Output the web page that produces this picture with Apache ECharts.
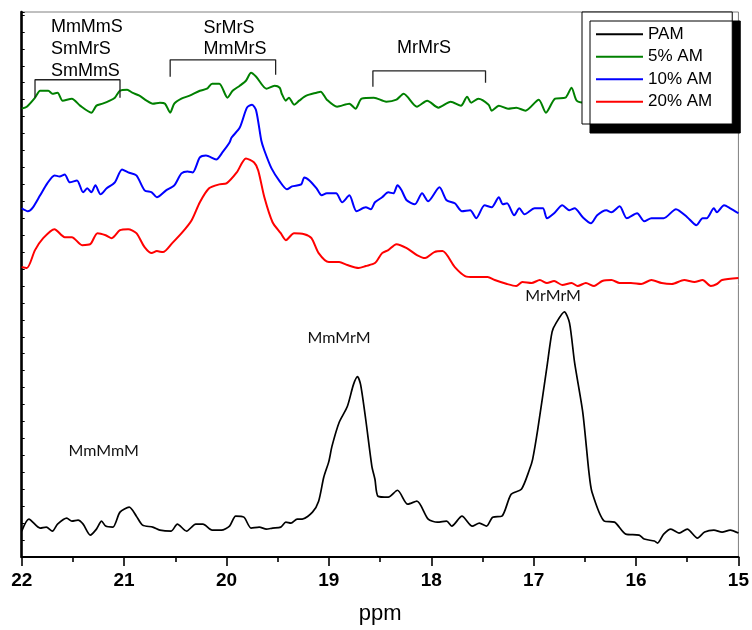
<!DOCTYPE html>
<html>
<head>
<meta charset="utf-8">
<script src="https://cdn.jsdelivr.net/npm/echarts@6/dist/echarts.min.js"></script>
<style>html,body{margin:0;padding:0;background:#fff}#c{width:752px;height:630px}</style>
</head>
<body>
<div id="c"></div>
<script>
// ---- data: [ppm, intensity (arbitrary units, stacked offsets)] ----
const seriesNames = ['PAM', '5% AM', '10% AM', '20% AM'];
const xTicks = [22, 21, 20, 19, 18, 17, 16, 15];

const pam = [[22.00,26],[21.93,38],[21.82,29],[21.76,30],[21.70,26],[21.65,33],[21.56,39],[21.51,36],[21.45,37],[21.40,33],[21.33,22],[21.27,28],[21.22,36],[21.18,31],[21.11,30],[21.04,45],[20.95,50],[20.88,41],[20.82,32],[20.72,30],[20.65,27],[20.54,26],[20.48,33],[20.39,26],[20.30,33],[20.23,33],[20.14,27],[20.05,27],[19.97,31],[19.91,41],[19.83,40],[19.76,29],[19.68,30],[19.61,28],[19.55,29],[19.47,30],[19.42,35],[19.37,34],[19.31,38],[19.26,38],[19.16,45],[19.10,56],[19.05,80],[19.00,96],[18.97,111],[18.90,135],[18.82,151],[18.76,173],[18.72,181],[18.69,173],[18.64,138],[18.58,91],[18.55,78],[18.52,61],[18.42,60],[18.33,67],[18.23,53],[18.14,56],[18.03,38],[17.94,35],[17.85,36],[17.80,31],[17.70,41],[17.60,31],[17.53,34],[17.46,31],[17.40,40],[17.31,41],[17.22,63],[17.12,68],[17.04,88],[17.01,98],[16.96,128],[16.87,191],[16.82,226],[16.78,235],[16.70,246],[16.65,235],[16.60,195],[16.52,145],[16.46,85],[16.43,65],[16.31,36],[16.21,35],[16.10,23],[15.97,22],[15.92,18],[15.82,16],[15.79,14],[15.73,23],[15.66,28],[15.58,24],[15.50,28],[15.40,19],[15.33,25],[15.24,27],[15.16,25],[15.08,27],[15.00,24]];

const am5 = [[22.00,450],[21.95,452],[21.87,461],[21.82,468],[21.74,468],[21.70,465],[21.65,466],[21.60,458],[21.51,460],[21.43,453],[21.32,446],[21.27,453],[21.21,455],[21.14,458],[21.09,461],[21.04,468],[20.97,469],[20.92,466],[20.85,463],[20.78,458],[20.72,455],[20.65,456],[20.60,455],[20.55,446],[20.51,455],[20.44,460],[20.36,463],[20.26,468],[20.19,470],[20.14,475],[20.07,475],[19.99,461],[19.94,468],[19.87,473],[19.81,478],[19.76,486],[19.71,482],[19.61,470],[19.53,473],[19.48,471],[19.46,465],[19.42,458],[19.39,461],[19.34,454],[19.29,458],[19.22,463],[19.12,466],[19.08,467],[19.02,459],[18.92,452],[18.80,455],[18.74,450],[18.68,460],[18.56,461],[18.44,457],[18.34,459],[18.27,465],[18.14,452],[18.04,458],[17.93,451],[17.81,457],[17.71,453],[17.65,462],[17.61,456],[17.54,460],[17.44,454],[17.41,448],[17.34,453],[17.25,450],[17.17,451],[17.08,448],[16.95,459],[16.88,446],[16.79,460],[16.69,461],[16.63,471],[16.58,458],[16.50,456],[16.40,460],[16.30,454],[16.20,458],[16.10,453],[16.00,459],[15.90,455],[15.80,458],[15.70,454],[15.60,460],[15.50,456],[15.40,458],[15.30,454],[15.20,459],[15.10,456],[15.00,455]];

const am10 = [[22.00,350],[21.94,347],[21.89,351],[21.82,363],[21.75,375],[21.68,383],[21.63,382],[21.58,384],[21.53,376],[21.46,378],[21.40,366],[21.36,370],[21.32,366],[21.28,373],[21.23,364],[21.17,370],[21.09,376],[21.02,389],[20.96,386],[20.88,383],[20.80,368],[20.73,366],[20.68,361],[20.59,368],[20.51,373],[20.44,385],[20.38,387],[20.33,386],[20.26,401],[20.20,403],[20.10,399],[20.04,406],[19.97,416],[19.95,421],[19.87,431],[19.80,451],[19.75,454],[19.71,448],[19.66,418],[19.63,408],[19.56,390],[19.48,377],[19.41,369],[19.36,372],[19.27,374],[19.24,381],[19.19,378],[19.12,370],[19.07,363],[19.02,365],[18.93,365],[18.87,356],[18.80,363],[18.73,347],[18.64,351],[18.59,349],[18.55,356],[18.48,361],[18.42,366],[18.37,365],[18.33,373],[18.29,368],[18.24,358],[18.16,354],[18.09,365],[18.03,357],[17.92,371],[17.85,358],[17.77,355],[17.70,347],[17.62,348],[17.56,340],[17.48,353],[17.41,351],[17.34,361],[17.30,354],[17.26,355],[17.19,343],[17.14,350],[17.09,344],[16.99,350],[16.91,350],[16.87,340],[16.80,345],[16.72,353],[16.65,348],[16.60,350],[16.52,341],[16.44,335],[16.38,343],[16.29,348],[16.24,346],[16.16,352],[16.09,340],[15.99,345],[15.92,337],[15.85,340],[15.79,340],[15.73,340],[15.61,349],[15.50,341],[15.41,333],[15.35,340],[15.31,340],[15.24,350],[15.21,346],[15.14,353],[15.08,350],[15.00,345]];

const am20 = [[22.00,291],[21.95,290],[21.87,308],[21.79,320],[21.68,329],[21.58,321],[21.51,321],[21.41,313],[21.33,314],[21.26,325],[21.18,323],[21.12,320],[21.04,328],[20.96,329],[20.88,325],[20.80,311],[20.73,305],[20.68,307],[20.62,306],[20.53,315],[20.43,326],[20.34,338],[20.26,356],[20.17,370],[20.07,374],[20.00,375],[19.90,386],[19.81,400],[19.73,396],[19.69,388],[19.63,361],[19.55,336],[19.47,325],[19.42,318],[19.34,325],[19.24,324],[19.17,320],[19.10,305],[19.00,296],[18.90,296],[18.82,293],[18.71,290],[18.64,292],[18.55,295],[18.48,305],[18.42,308],[18.34,314],[18.24,310],[18.14,303],[18.06,300],[17.97,306],[17.89,307],[17.77,291],[17.67,282],[17.58,281],[17.45,281],[17.38,278],[17.26,274],[17.17,272],[17.11,276],[17.02,275],[16.94,278],[16.87,275],[16.80,277],[16.72,273],[16.63,275],[16.57,272],[16.49,275],[16.41,272],[16.33,277],[16.24,278],[16.16,275],[16.05,275],[15.95,274],[15.85,278],[15.75,275],[15.65,274],[15.53,278],[15.43,276],[15.35,278],[15.27,272],[15.21,274],[15.16,278],[15.00,280]];

// ---- annotations (data coordinates) ----
const labelsTop = [
  { name: 'MmMmS', at: [21.715, 532], align: 'left' },
  { name: 'SmMrS', at: [21.715, 510], align: 'left' },
  { name: 'SmMmS', at: [21.715, 488], align: 'left' },
  { name: 'SrMrS', at: [20.225, 531], align: 'left' },
  { name: 'MmMrS', at: [20.225, 510], align: 'left' },
  { name: 'MrMrS', at: [18.07, 511], align: 'center' }
];
const labelsPeak = [
  { name: 'MmMmM', at: [21.20, 107] },
  { name: 'MmMrM', at: [18.90, 220] },
  { name: 'MrMrM', at: [16.81, 262] }
];
const brackets = [
  { from: 21.87, to: 21.04, top: 479, endL: 461, endR: 461 },
  { from: 20.55, to: 19.52, top: 499, endL: 482, endR: 484 },
  { from: 18.57, to: 17.47, top: 488, endL: 472, endR: 476 }
];

const arial = 'Liberation Sans, Arial, Helvetica, sans-serif';
const colors = ['#000000', '#008000', '#0000ff', '#ff0000'];
const datasets = [pam, am5, am10, am20];

const series = datasets.map((d, i) => ({
  name: seriesNames[i],
  type: 'line',
  data: d,
  symbol: 'none',
  smooth: 0.25,
  z: 2,
  lineStyle: { color: colors[i], width: i === 0 ? 1.7 : 2 },
  itemStyle: { color: colors[i] },
  silent: true
}));

brackets.forEach((b, k) => {
  series.push({
    name: 'bracket' + k,
    type: 'line',
    data: [[b.from, b.endL], [b.from, b.top], [b.to, b.top], [b.to, b.endR]],
    symbol: 'none',
    silent: true,
    lineStyle: { color: '#222', width: 1.3 },
    z: 2
  });
});

series.push({
  name: 'labelsTop',
  type: 'scatter',
  symbolSize: 0,
  silent: true,
  z: 2,
  itemStyle: { opacity: 1 },
  data: labelsTop.map(l => ({
    name: l.name, value: l.at,
    label: { align: l.align }
  })),
  label: {
    show: true, position: 'inside', formatter: '{b}',
    verticalAlign: 'middle', color: '#000',
    fontFamily: arial, fontSize: 18
  }
});
series.push({
  name: 'labelsPeak',
  type: 'scatter',
  symbolSize: 0,
  silent: true,
  z: 2,
  itemStyle: { opacity: 1 },
  data: labelsPeak.map(l => ({ name: l.name, value: l.at })),
  label: {
    show: true, position: 'inside', formatter: '{b}',
    align: 'center', verticalAlign: 'middle', color: '#111',
    fontFamily: 'Lato, Open Sans, sans-serif', fontSize: 16
  }
});

const chart = echarts.init(document.getElementById('c'), null, { renderer: 'canvas' });
chart.setOption({
  animation: false,
  backgroundColor: '#fff',
  grid: {
    left: 21.7, right: 11, top: 12, bottom: 71,
    show: true, borderColor: '#808080', borderWidth: 1, backgroundColor: 'transparent'
  },
  legend: {
    data: seriesNames,
    orient: 'vertical',
    left: 582, top: 12,
    z: 20,
    padding: [11, 20, 11, 14],
    backgroundColor: '#fff',
    borderColor: '#000', borderWidth: 1,
    shadowColor: '#000', shadowBlur: 0, shadowOffsetX: 8, shadowOffsetY: 9,
    icon: 'rect', itemWidth: 47, itemHeight: 2, itemGap: 0,
    textStyle: { color: '#000', fontFamily: arial, fontSize: 17, lineHeight: 22.5 },
    selectedMode: false
  },
  xAxis: {
    type: 'value',
    min: xTicks[xTicks.length - 1], max: xTicks[0], interval: 1,
    inverse: true,
    axisLine: { show: true, onZero: false, lineStyle: { color: '#000', width: 2.2 } },
    axisTick: { show: true, inside: false, length: 9, lineStyle: { color: '#000', width: 1.6 } },
    minorTick: { show: true, splitNumber: 2, length: 5, lineStyle: { color: '#000', width: 1.6 } },
    axisLabel: { color: '#000', fontFamily: arial, fontWeight: 'bold', fontSize: 19, margin: 14 },
    splitLine: { show: false },
    name: 'ppm', nameLocation: 'middle', nameGap: 46,
    nameTextStyle: { color: '#000', fontFamily: arial, fontSize: 22 }
  },
  yAxis: {
    type: 'value',
    min: 0, max: 547, interval: 17,
    axisLine: { show: true, onZero: false, lineStyle: { color: '#000', width: 2.6 } },
    axisTick: { show: true, inside: true, length: 3, lineStyle: { color: '#000', width: 1 } },
    axisLabel: { show: false },
    splitLine: { show: false }
  },
  series: series
});
</script>
</body>
</html>
